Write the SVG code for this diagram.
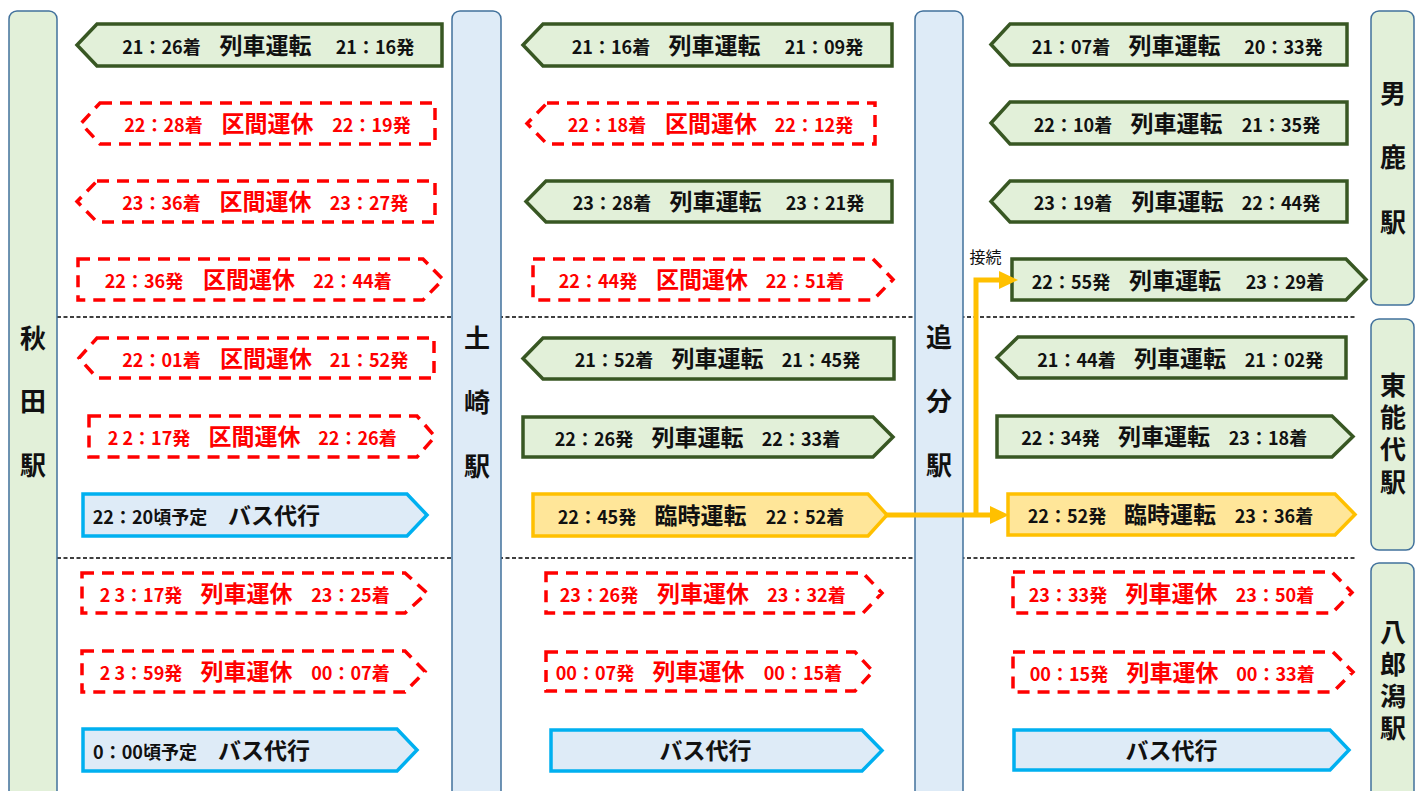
<svg xmlns="http://www.w3.org/2000/svg" width="1421" height="791" viewBox="0 0 1421 791">
<defs>
<style>
text{font-family:"Noto Sans CJK JP","Noto Sans CJK SC",sans-serif;font-weight:bold;text-anchor:middle;dominant-baseline:central;fill:#111}
.st{fill:#E2F0D9;stroke:#41719C;stroke-width:1.5}
.sb{fill:#DEEBF7;stroke:#41719C;stroke-width:1.5}
.sn{font-size:26px;writing-mode:vertical-rl;text-anchor:start}
.g{fill:#E2F0D9;stroke:#385723;stroke-width:3.5}
.r{fill:#fff;stroke:#FF0000;stroke-width:3.5;stroke-dasharray:12 8}
.b{fill:#DEEBF7;stroke:#00B0F0;stroke-width:3.5}
.y{fill:#FFE699;stroke:#FFC000;stroke-width:3.5}
.t{font-size:18px;transform:translateY(1px)}
.m{font-size:23px;transform:translateY(-1px)}
.rt{fill:#FF0000}
.sep{stroke:#000;stroke-width:1.5;stroke-dasharray:4 2.5;fill:none}
.con{fill:none;stroke:#FFC000;stroke-width:5}
.lbl{font-size:16px;font-weight:normal}
</style>
<marker id="ah" markerUnits="userSpaceOnUse" markerWidth="19" markerHeight="18" refX="0" refY="9" orient="auto"><path d="M0,0 L19,9 L0,18 z" fill="#FFC000"/></marker>
</defs>
<rect width="1421" height="791" fill="#fff"/>
<g id="separators">
<line class="sep" x1="57" y1="317" x2="1357" y2="317"/>
<line class="sep" x1="57" y1="558" x2="1357" y2="558"/>
</g>
<g id="st-akita"><rect class="st" x="9" y="11" width="48" height="800" rx="8"/><text class="sn" x="33" y="325" letter-spacing="37.5">秋田駅</text></g>
<g id="st-tsuchizaki"><rect class="sb" x="452" y="11" width="49" height="800" rx="8"/><text class="sn" x="477" y="325" letter-spacing="38">土崎駅</text></g>
<g id="st-oiwake"><rect class="sb" x="915" y="11" width="48" height="800" rx="8"/><text class="sn" x="939" y="324" letter-spacing="38">追分駅</text></g>
<g id="st-oga"><rect class="st" x="1371" y="11" width="43" height="294" rx="8"/><text class="sn" x="1393" y="80" letter-spacing="38.5">男鹿駅</text></g>
<g id="st-higashinoshiro"><rect class="st" x="1371" y="319" width="43" height="231" rx="8"/><text class="sn" x="1393" y="372" letter-spacing="6.3">東能代駅</text></g>
<g id="st-hachirogata"><rect class="st" x="1371" y="563" width="43" height="250" rx="8"/><text class="sn" x="1393" y="619" letter-spacing="6">八郎潟駅</text></g>

<g id="c1r1"><polygon class="g" points="97,24 442,24 442,66 97,66 77,45"/><text class="t" x="161.5" y="45">21：26着</text><text class="m" x="265.5" y="45">列車運転</text><text class="t" x="375" y="45">21：16発</text></g>
<g id="c1r2"><polygon class="r" points="100,103 435,103 435,144 100,144 81,123.5"/><text class="t rt" x="163.5" y="123">22：28着</text><text class="m rt" x="267.5" y="123">区間運休</text><text class="t rt" x="371.5" y="123">22：19発</text></g>
<g id="c1r3"><polygon class="r" points="97,181 435,181 435,222 97,222 77,201.5"/><text class="t rt" x="161.5" y="201">23：36着</text><text class="m rt" x="265.5" y="201">区間運休</text><text class="t rt" x="369" y="201">23：27発</text></g>
<g id="c1r4"><polygon class="r" points="78,259 423,259 443,279.5 423,300 78,300"/><text class="t rt" x="144" y="279">22：36発</text><text class="m rt" x="249" y="279">区間運休</text><text class="t rt" x="352.5" y="279">22：44着</text></g>
<g id="c1r5"><polygon class="r" points="97,338 434,338 434,378 97,378 79,358"/><text class="t rt" x="161.5" y="358">22：01着</text><text class="m rt" x="266" y="358">区間運休</text><text class="t rt" x="369" y="358">21：52発</text></g>
<g id="c1r6"><polygon class="r" points="89,416 417,416 435,436.5 417,457 89,457"/><text class="t rt" x="149" y="436">2 2：17発</text><text class="m rt" x="254.5" y="436">区間運休</text><text class="t rt" x="357.5" y="436">22：26着</text></g>
<g id="c1r7"><polygon class="b" points="83,494 407,494 427,515 407,536 83,536"/><text class="t" x="150" y="515">22：20頃予定</text><text class="m" x="274" y="515">バス代行</text></g>
<g id="c1r8"><polygon class="r" points="82,573 405,573 427,593 405,613 82,613"/><text class="t rt" x="141" y="593">2 3：17発</text><text class="m rt" x="246.5" y="593">列車運休</text><text class="t rt" x="350.5" y="593">23：25着</text></g>
<g id="c1r9"><polygon class="r" points="82,651 405,651 425,671.5 405,692 82,692"/><text class="t rt" x="141" y="671">2 3：59発</text><text class="m rt" x="246.5" y="671">列車運休</text><text class="t rt" x="350.5" y="671">00：07着</text></g>
<g id="c1r10"><polygon class="b" points="83,729 397,729 417,750 397,771 83,771"/><text class="t" x="145" y="750">0：00頃予定</text><text class="m" x="264" y="750">バス代行</text></g>

<g id="c2r1"><polygon class="g" points="543,24 892,24 892,66 543,66 523,45"/><text class="t" x="611" y="45">21：16着</text><text class="m" x="714.5" y="45">列車運転</text><text class="t" x="824" y="45">21：09発</text></g>
<g id="c2r2"><polygon class="r" points="547,103 875,103 875,144 547,144 527,123.5"/><text class="t rt" x="607" y="123">22：18着</text><text class="m rt" x="711" y="123">区間運休</text><text class="t rt" x="814" y="123">22：12発</text></g>
<g id="c2r3"><polygon class="g" points="546,181 892,181 892,222 546,222 526,201.5"/><text class="t" x="612" y="201">23：28着</text><text class="m" x="715.5" y="201">列車運転</text><text class="t" x="825" y="201">23：21発</text></g>
<g id="c2r4"><polygon class="r" points="533,259 873,259 893,279.5 873,300 533,300"/><text class="t rt" x="598" y="279">22：44発</text><text class="m rt" x="702" y="279">区間運休</text><text class="t rt" x="805" y="279">22：51着</text></g>
<g id="c2r5"><polygon class="g" points="543,338 894,338 894,379 543,379 523,358.5"/><text class="t" x="614" y="358">21：52着</text><text class="m" x="717.5" y="358">列車運転</text><text class="t" x="821" y="358">21：45発</text></g>
<g id="c2r6"><polygon class="g" points="523,417 873,417 893,437 873,457 523,457"/><text class="t" x="594" y="437">22：26発</text><text class="m" x="697.5" y="437">列車運転</text><text class="t" x="801" y="437">22：33着</text></g>
<g id="c2r7"><polygon class="y" points="533,494 868,494 887,515 868,536 533,536"/><text class="t" x="597" y="515">22：45発</text><text class="m" x="700.5" y="515">臨時運転</text><text class="t" x="805" y="515">22：52着</text></g>
<g id="c2r8"><polygon class="r" points="546,573 863,573 882,593 863,613 546,613"/><text class="t rt" x="599" y="593">23：26発</text><text class="m rt" x="703" y="593">列車運休</text><text class="t rt" x="806.5" y="593">23：32着</text></g>
<g id="c2r9"><polygon class="r" points="546,652 855,652 873,671.5 855,691 546,691"/><text class="t rt" x="595" y="671">00：07発</text><text class="m rt" x="698.5" y="671">列車運休</text><text class="t rt" x="803" y="671">00：15着</text></g>
<g id="c2r10"><polygon class="b" points="551,730 862,730 882,750.5 862,771 551,771"/><text class="m" x="705.5" y="750">バス代行</text></g>

<g id="c3r1"><polygon class="g" points="1010,24 1347,24 1347,65 1010,65 991,44.5"/><text class="t" x="1071" y="45">21：07着</text><text class="m" x="1174.5" y="45">列車運転</text><text class="t" x="1283.5" y="45">20：33発</text></g>
<g id="c3r2"><polygon class="g" points="1010,102 1347,102 1347,144 1010,144 991,123"/><text class="t" x="1073" y="123">22：10着</text><text class="m" x="1176.5" y="123">列車運転</text><text class="t" x="1281" y="123">21：35発</text></g>
<g id="c3r3"><polygon class="g" points="1010,181 1347,181 1347,222 1010,222 991,201.5"/><text class="t" x="1073" y="201">23：19着</text><text class="m" x="1177.5" y="201">列車運転</text><text class="t" x="1281" y="201">22：44発</text></g>
<g id="c3r4"><polygon class="g" points="1012,259 1346,259 1366,279.5 1346,300 1012,300"/><text class="t" x="1071" y="280">22：55発</text><text class="m" x="1175" y="280">列車運転</text><text class="t" x="1285" y="280">23：29着</text></g>
<g id="c3r5"><polygon class="g" points="1018,337 1346,337 1346,378 1018,378 997,357.5"/><text class="t" x="1076.5" y="358">21：44着</text><text class="m" x="1180" y="358">列車運転</text><text class="t" x="1284" y="358">21：02発</text></g>
<g id="c3r6"><polygon class="g" points="997,416 1332,416 1353,436.5 1332,457 997,457"/><text class="t" x="1060.5" y="436">22：34発</text><text class="m" x="1164" y="436">列車運転</text><text class="t" x="1268" y="436">23：18着</text></g>
<g id="c3r7"><polygon class="y" points="1008,494 1335,494 1355,514.5 1335,535 1008,535"/><text class="t" x="1067" y="514">22：52発</text><text class="m" x="1170" y="514">臨時運転</text><text class="t" x="1274" y="514">23：36着</text></g>
<g id="c3r8"><polygon class="r" points="1013,572 1332,572 1352,592.5 1332,613 1013,613"/><text class="t rt" x="1068" y="593">23：33発</text><text class="m rt" x="1171.5" y="593">列車運休</text><text class="t rt" x="1275" y="593">23：50着</text></g>
<g id="c3r9"><polygon class="r" points="1013,652 1333,652 1353,672 1333,692 1013,692"/><text class="t rt" x="1069" y="672">00：15発</text><text class="m rt" x="1172.5" y="672">列車運休</text><text class="t rt" x="1275.5" y="672">00：33着</text></g>
<g id="c3r10"><polygon class="b" points="1014,730 1330,730 1349,750 1330,770 1014,770"/><text class="m" x="1171.5" y="750">バス代行</text></g>

<g id="connectors">
<path class="con" d="M886,515 H990" marker-end="url(#ah)"/>
<path class="con" d="M976,515 V280 H999" marker-end="url(#ah)"/>
<text class="lbl" x="985.5" y="256">接続</text>
</g>
</svg>
